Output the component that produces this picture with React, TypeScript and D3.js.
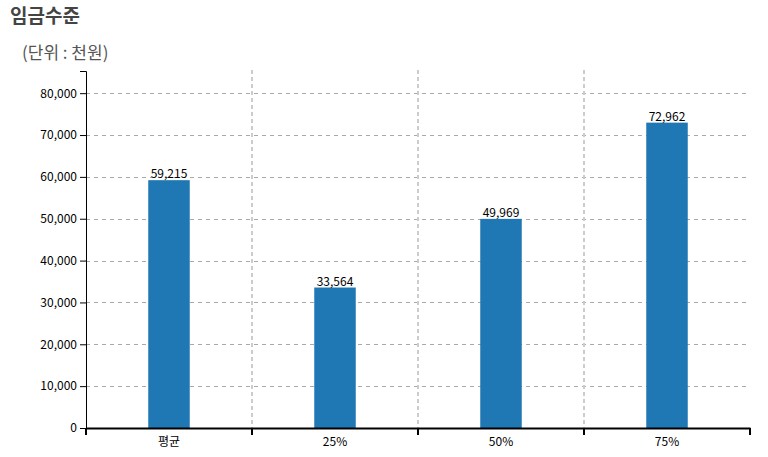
import React, { useRef, useEffect } from "react";
import * as d3 from "d3";

const WIDTH = 768;
const HEIGHT = 457;
const MARGIN = { top: 71, right: 18, bottom: 29, left: 86 };

const categories = ["평균", "25%", "50%", "75%"];
const values = [59215, 33564, 49969, 72962];
const yTicks = [0, 10000, 20000, 30000, 40000, 50000, 60000, 70000, 80000];
const Y_MAX = 85300;

const FONT = "'Noto Sans CJK KR', 'Noto Sans', sans-serif";

export default function App() {
  const svgRef = useRef<SVGSVGElement | null>(null);

  useEffect(() => {
    const svg = d3.select(svgRef.current);
    svg.selectAll("*").remove();

    const x = d3
      .scaleBand<string>()
      .domain(categories)
      .range([MARGIN.left, WIDTH - MARGIN.right]);
    const y = d3
      .scaleLinear()
      .domain([0, Y_MAX])
      .range([HEIGHT - MARGIN.bottom, MARGIN.top]);

    // Title
    svg
      .append("text")
      .attr("x", 10)
      .attr("y", 23)
      .attr("font-family", FONT)
      .attr("font-size", 19)
      .attr("font-weight", "bold")
      .attr("fill", "#444")
      .text("임금수준");
    svg
      .append("text")
      .attr("x", 22)
      .attr("y", 59)
      .attr("font-family", FONT)
      .attr("font-size", 17)
      .attr("fill", "#555")
      .text("(단위 : 천원)");

    // Horizontal grid
    svg
      .append("g")
      .selectAll("line")
      .data(yTicks.filter((t) => t > 0))
      .enter()
      .append("line")
      .attr("x1", MARGIN.left)
      .attr("x2", WIDTH - MARGIN.right)
      .attr("y1", (d) => Math.round(y(d)) + 0.5)
      .attr("y2", (d) => Math.round(y(d)) + 0.5)
      .attr("stroke", "#aaa")
      .attr("stroke-dasharray", "4,4");

    // Vertical grid at band boundaries
    const bounds = categories.slice(1).map((c) => x(c) as number);
    svg
      .append("g")
      .selectAll("line")
      .data(bounds)
      .enter()
      .append("line")
      .attr("x1", (d) => Math.round(d))
      .attr("x2", (d) => Math.round(d))
      .attr("y1", MARGIN.top - 1)
      .attr("y2", HEIGHT - MARGIN.bottom)
      .attr("stroke", "#ccc")
      .attr("stroke-width", 2)
      .attr("stroke-dasharray", "4,3");

    // Bars
    const bw = x.bandwidth() * 0.25;
    svg
      .append("g")
      .selectAll("rect")
      .data(values)
      .enter()
      .append("rect")
      .attr("x", (d, i) => (x(categories[i]) as number) + x.bandwidth() / 2 - bw / 2)
      .attr("y", (d) => y(d))
      .attr("width", bw)
      .attr("height", (d) => y(0) - y(d))
      .attr("fill", "#1f77b4");

    // Value labels
    svg
      .append("g")
      .selectAll("text")
      .data(values)
      .enter()
      .append("text")
      .attr("x", (d, i) => (x(categories[i]) as number) + x.bandwidth() / 2)
      .attr("y", (d) => y(d) - 2)
      .attr("text-anchor", "middle")
      .attr("font-family", FONT)
      .attr("font-size", 12)
      .attr("fill", "#000")
      .text((d) => d3.format(",")(d));

    // Axes
    const yAxis = svg
      .append("g")
      .attr("transform", `translate(${MARGIN.left},0)`)
      .call(d3.axisLeft(y).tickValues(yTicks).tickFormat(d3.format(",") as any));
    yAxis.selectAll("text").attr("font-family", FONT).attr("font-size", 12).attr("fill", "#000");

    const xAxis = svg
      .append("g")
      .attr("transform", `translate(0,${HEIGHT - MARGIN.bottom})`)
      .call(d3.axisBottom(x).tickSize(0).tickPadding(9));
    xAxis.select(".domain").attr("stroke-width", 2);
    xAxis.selectAll("text").attr("font-family", FONT).attr("font-size", 12).attr("fill", "#000");

    // Category boundary ticks on x axis
    svg
      .append("g")
      .selectAll("line")
      .data([MARGIN.left, ...bounds, WIDTH - MARGIN.right])
      .enter()
      .append("line")
      .attr("x1", (d) => Math.round(d))
      .attr("x2", (d) => Math.round(d))
      .attr("y1", HEIGHT - MARGIN.bottom)
      .attr("y2", HEIGHT - MARGIN.bottom + 7)
      .attr("stroke", "#000")
      .attr("stroke-width", 2);
  }, []);

  return (
    <svg
      ref={svgRef}
      width={WIDTH}
      height={HEIGHT}
      style={{ position: "absolute", left: 0, top: 0, background: "#fff" }}
    />
  );
}
